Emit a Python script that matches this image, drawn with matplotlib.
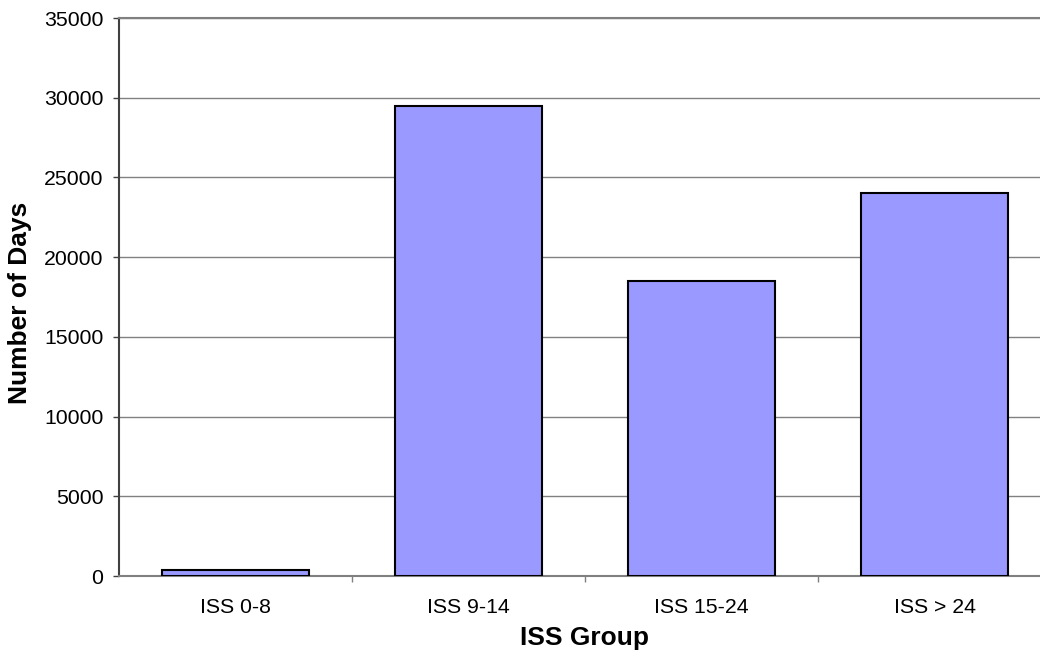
import matplotlib.pyplot as plt
import numpy as np

groups = ['ISS 0-8', 'ISS 9-14', 'ISS 15-24', 'ISS > 24']
days = [400, 29500, 18500, 24000]

plt.rcParams['font.family'] = ['Liberation Sans', 'DejaVu Sans']

fig = plt.figure(figsize=(10.4, 6.54), dpi=100)
ax = fig.add_axes([119 / 1040, 1 - 576 / 654, (1051 - 119) / 1040, (576 - 18) / 654])

x = np.arange(len(groups))
ax.bar(x, days, width=0.63, color='#9999ff', edgecolor='black', linewidth=1.5, zorder=3)

ax.set_xlim(-0.5, len(groups) - 0.5)
ax.set_ylim(0, 35000)
ax.set_yticks(np.arange(0, 35001, 5000))
ax.yaxis.grid(True, color='#808080', linewidth=1, zorder=0)

ax.set_xticks(x)
ax.set_xticklabels(groups, fontsize=15.3)
ax.set_xticks(np.arange(0.5, len(groups) - 0.5, 1), minor=True)
ax.tick_params(axis='x', which='major', length=0, pad=16)
ax.tick_params(axis='x', which='minor', length=4.3, color='#808080', width=1)
ax.tick_params(axis='y', labelsize=15.3, length=4.3, color='#404040', width=1, pad=7)

for side in ['top', 'right', 'bottom']:
    ax.spines[side].set_color('#808080')
    ax.spines[side].set_linewidth(1.5)
ax.spines['left'].set_color('#404040')
ax.spines['left'].set_linewidth(1.5)

ax.set_xlabel('ISS Group', fontsize=19, fontweight='bold', labelpad=6)
ax.set_ylabel('Number of Days', fontsize=19, fontweight='bold', labelpad=8)
ax.yaxis.set_label_coords(-0.093, 0.49)

fig.savefig('out.png', dpi=100)
